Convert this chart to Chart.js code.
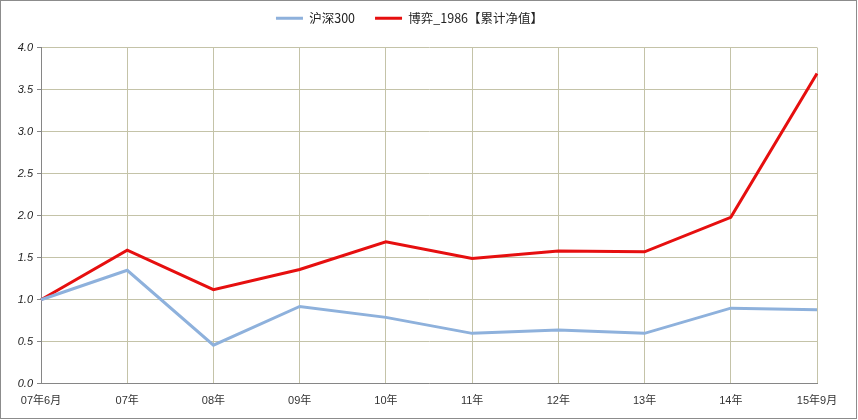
<!DOCTYPE html>
<html>
<head>
<meta charset="utf-8">
<script src="https://cdn.jsdelivr.net/npm/chart.js@4"></script>
<style>
  html,body{margin:0;padding:0;background:#fff;}
  #wrap{width:858px;height:420px;position:relative;}
</style>
</head>
<body>
<div id="wrap"><canvas id="chart" width="858" height="420"></canvas></div>
<script>
/* ===== Data ===== */
const labels = ["07年6月","07年","08年","09年","10年","11年","12年","13年","14年","15年9月"];
const hs300 = [1.0,1.35,0.46,0.92,0.79,0.60,0.64,0.60,0.90,0.88];
const boyi  = [1.0,1.59,1.12,1.36,1.69,1.49,1.58,1.57,1.98,3.69];
const yTicks = [0,0.5,1,1.5,2,2.5,3,3.5,4];

const GRID = "#c4c3a8";
const AXIS = "#868686";
const FONT = "'Liberation Sans', Arial, 'Noto Sans CJK SC', sans-serif";

// outer frame + legend spacing tweaks
const frame = {
  id:"frame",
  afterInit(c){
    const lg = c.legend;
    const fit = lg.fit, draw = lg.draw;
    lg.fit = function(){ fit.call(this); this.height += 3; };
    lg.draw = function(){
      const ctx = this.ctx;
      ctx.save();
      ctx.translate(0,-10);
      draw.call(this);
      ctx.restore();
    };
  },
  afterDraw(c){
    const ctx = c.ctx;
    ctx.save();
    ctx.strokeStyle = "#8c8c8c";
    ctx.lineWidth = 1;
    ctx.strokeRect(0.5,0.5,c.width-2,c.height-2);
    ctx.restore();
  }
};

const baseLabels = Chart.defaults.plugins.legend.labels.generateLabels;

new Chart(document.getElementById("chart"),{
  type:"line",
  data:{
    labels,
    datasets:[
      {label:"沪深300",data:hs300,borderColor:"#8eb1dc",backgroundColor:"#8eb1dc",borderWidth:3,pointRadius:0,tension:0},
      {label:"博弈_1986【累计净值】",data:boyi,borderColor:"#e60f0f",backgroundColor:"#e60f0f",borderWidth:3,pointRadius:0,tension:0}
    ]
  },
  options:{
    responsive:false,
    animation:false,
    layout:{padding:{top:2,right:41,bottom:1,left:2}},
    plugins:{
      legend:{
        position:"top",
        labels:{
          boxWidth:27,boxHeight:3,padding:20,
          color:"#222",
          font:{family:"'Noto Sans CJK SC', sans-serif",size:12.5},
          generateLabels:c=>baseLabels(c).map(l=>({...l,lineWidth:0}))
        }
      },
      tooltip:{enabled:false}
    },
    scales:{
      x:{
        offset:false,
        grid:{color:GRID,drawTicks:false},
        border:{color:AXIS,width:1},
        ticks:{color:"#333",padding:11,maxRotation:0,autoSkip:false,font:{family:FONT,size:11}}
      },
      y:{
        min:0,max:4,
        afterBuildTicks(s){ s.ticks = yTicks.map(v=>({value:v})); },
        afterFit(s){ s.width = 39; },
        grid:{color:GRID,drawTicks:true,tickLength:4,tickColor:AXIS},
        border:{color:AXIS,width:1},
        ticks:{color:"#222",padding:4,font:{family:FONT,size:11,style:"italic"},callback:v=>v.toFixed(1)}
      }
    }
  },
  plugins:[frame]
});
</script>
</body>
</html>
